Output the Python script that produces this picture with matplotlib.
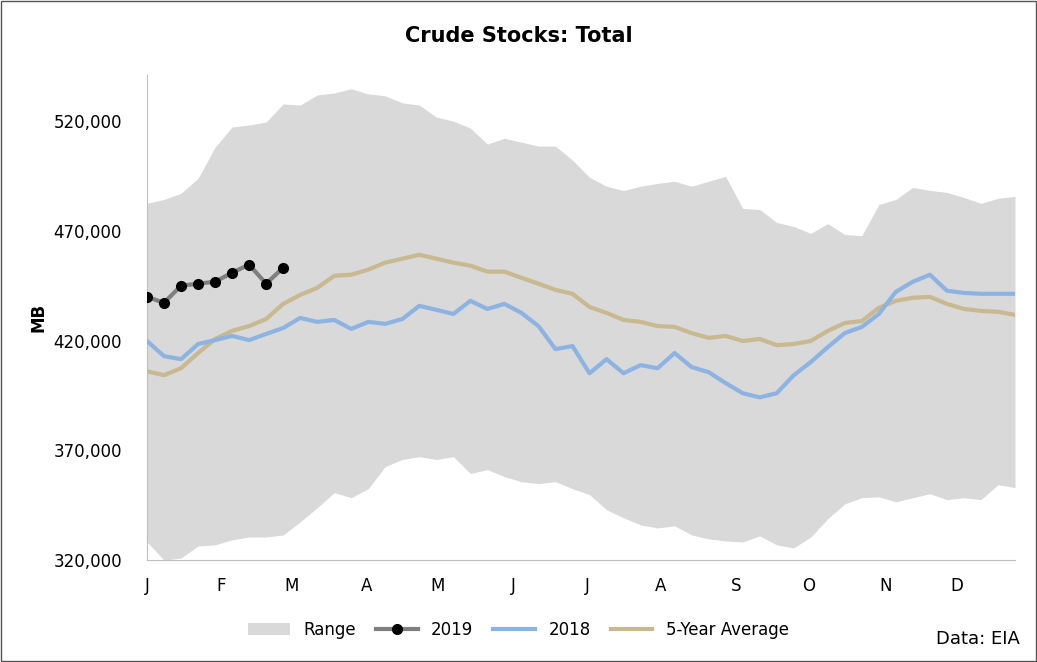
import matplotlib
matplotlib.use("Agg")
import matplotlib.pyplot as plt
import numpy as np

weeks = np.arange(1, 53)
month_labels = ["J","F","M","A","M","J","J","A","S","O","N","D"]
month_pos = [1,5.35,9.5,13.9,18.1,22.5,26.9,31.2,35.6,39.9,44.4,48.6]

y2019 = [439.9,437.2,445.0,445.9,446.8,450.9,454.6,445.9,453.2]
y2018 = [419.8,412.9,411.5,418.4,420.2,422.1,420.2,423.0,425.7,430.3,428.5,429.4,425.3,428.5,427.6,429.8,
         435.8,434.0,432.1,438.1,434.4,436.7,432.6,426.6,416.1,417.5,405.1,411.5,405.1,408.8,407.4,414.3,
         407.9,405.6,400.6,396.0,394.1,396.0,404.2,410.2,417.0,423.4,426.2,432.1,442.2,446.8,450.0,442.7,
         441.7,441.3,441.3,441.3]
avg5 = [406.0,404.2,407.4,414.3,420.7,424.4,426.6,429.8,436.7,440.8,444.0,449.5,450.0,452.3,455.5,457.3,
        459.1,457.3,455.5,454.1,451.4,451.4,448.6,445.9,443.1,441.3,435.3,432.6,429.4,428.5,426.6,426.2,
        423.4,421.2,422.1,419.8,420.7,417.9,418.4,419.8,424.4,428.0,428.9,434.9,438.1,439.5,439.9,436.7,
        434.4,433.5,433.1,431.7]
rng_hi = [482.5,484.3,487.1,493.9,508.1,517.3,518.2,519.6,527.8,527.3,531.9,532.8,534.7,532.4,531.5,528.3,
          527.3,521.8,520.0,516.8,509.5,512.2,510.4,508.6,508.6,502.2,494.4,490.3,488.4,490.3,491.6,492.6,
          490.3,492.6,494.8,480.2,479.7,473.8,472.0,468.8,473.3,468.3,467.8,482.0,484.3,489.8,488.4,487.5,
          485.2,482.5,484.8,485.7]
rng_lo = [328.2,320.0,320.9,326.4,326.9,329.2,330.5,330.5,331.4,337.4,343.8,350.7,348.4,352.5,362.6,365.8,
          367.1,365.8,367.1,359.4,361.2,358.0,355.7,354.8,355.7,352.5,349.8,342.9,339.2,336.0,334.6,335.6,
          331.4,329.6,328.7,328.2,331.0,326.9,325.5,330.5,338.8,345.6,348.4,348.8,346.5,348.4,350.2,347.5,
          348.4,347.5,354.3,353.0]
yticks = [320000,370000,420000,470000,520000]

k = 1000
fig = plt.figure(figsize=(10.37,6.62), dpi=100)
fig.patches.append(plt.Rectangle((0.001,0.001),0.998,0.997,transform=fig.transFigure,fill=False,ec="#555555",lw=1))
ax = fig.add_axes([147/1037, 1-560/662, (1015-147)/1037, (560-75)/662])
ax.fill_between(weeks, np.array(rng_lo)*k, np.array(rng_hi)*k, color="#d9d9d9", lw=0, label="Range")
ax.plot(weeks, np.array(avg5)*k, color="#c9b990", lw=3, label="5-Year Average", zorder=3)
ax.plot(weeks, np.array(y2018)*k, color="#8db3e2", lw=3, label="2018", zorder=4)
ax.plot(weeks[:len(y2019)], np.array(y2019)*k, color="#7f7f7f", lw=3, marker="o", ms=7,
        mfc="black", mec="black", label="2019", zorder=5)
ax.set_xlim(1,52)
ax.set_ylim(320000,541000)
ax.set_yticks(yticks)
ax.set_yticklabels([f"{v:,}" for v in yticks], fontsize=12)
ax.set_xticks(month_pos)
ax.set_xticklabels(month_labels, fontsize=12)
ax.tick_params(length=0, pad=12)
ax.tick_params(axis="y", pad=18)
for s in ["top","right"]:
    ax.spines[s].set_visible(False)
for s in ["left","bottom"]:
    ax.spines[s].set_color("#bfbfbf")
ax.set_ylabel("MB", fontsize=12, fontweight="bold")
fig.text(0.5, 1-36/662, "Crude Stocks: Total", ha="center", va="center", fontsize=15, fontweight="bold")
h, l = ax.get_legend_handles_labels()
order = [l.index(x) for x in ["Range","2019","2018","5-Year Average"]]
fig.legend([h[i] for i in order],[l[i] for i in order], loc="center", bbox_to_anchor=(0.5,1-630/662),
           ncol=4, frameon=False, fontsize=12, handlelength=2.5, columnspacing=1.2)
fig.text(1-17/1037, 1-639/662, "Data: EIA", ha="right", va="center", fontsize=13)
fig.savefig("out.png", dpi=100)
